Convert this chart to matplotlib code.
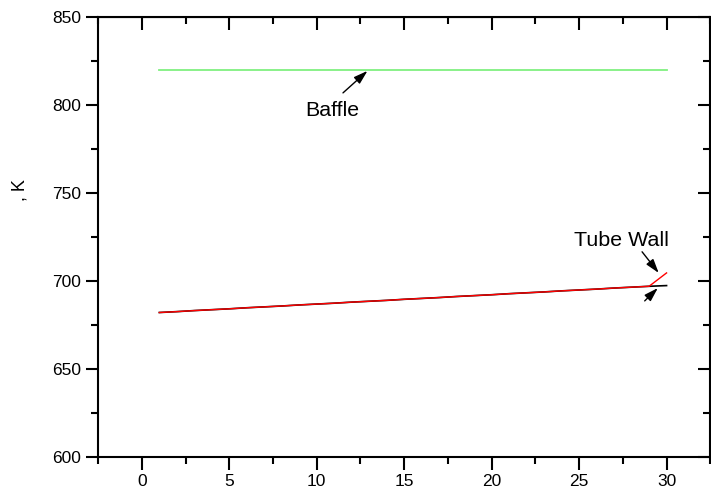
import numpy as np
import matplotlib.pyplot as plt
from matplotlib.ticker import MultipleLocator

plt.rcParams['font.family'] = ['Liberation Sans', 'DejaVu Sans']

# Axial position and temperatures (K)
position = np.arange(1, 31)
baffle_temp = [820.0] * 30
wall_temp = [682.0, 682.5, 683.1, 683.6, 684.1, 684.7, 685.2, 685.7, 686.3, 686.8,
             687.3, 687.9, 688.4, 688.9, 689.5, 690.0, 690.5, 691.1, 691.6, 692.1,
             692.7, 693.2, 693.7, 694.3, 694.8, 695.3, 695.9, 696.4, 696.9, 697.3]
wall_temp_outer = [682.0, 682.5, 683.1, 683.6, 684.1, 684.7, 685.2, 685.7, 686.3, 686.8,
                   687.3, 687.9, 688.4, 688.9, 689.5, 690.0, 690.5, 691.1, 691.6, 692.1,
                   692.7, 693.2, 693.7, 694.3, 694.8, 695.3, 695.9, 696.4, 696.9, 704.5]

fig = plt.figure(figsize=(7.11, 4.96), dpi=100)
ax = fig.add_axes([0.138, 0.079, 0.861, 0.887])

ax.plot(position, baffle_temp, color='#80f080', lw=1.3)
ax.plot(position, wall_temp, color='black', lw=1.2)
ax.plot(position, wall_temp_outer, color='red', lw=1.0)

ax.set_xlim(-2.5, 32.5)
ax.set_ylim(600, 850)
ax.xaxis.set_major_locator(MultipleLocator(5))
ax.xaxis.set_minor_locator(MultipleLocator(2.5))
ax.yaxis.set_major_locator(MultipleLocator(50))
ax.yaxis.set_minor_locator(MultipleLocator(25))

for s in ax.spines.values():
    s.set_linewidth(1.5)

ax.tick_params(which='both', direction='out', width=1.5, labelsize=12.5,
               top=False, right=False)
ax.tick_params(which='major', length=9)
ax.tick_params(which='minor', length=5)

# inward ticks on top and right edges
ax_top = ax.secondary_xaxis('top')
ax_top.xaxis.set_major_locator(MultipleLocator(5))
ax_top.xaxis.set_minor_locator(MultipleLocator(2.5))
ax_top.tick_params(which='both', direction='in', width=1.5, labeltop=False)
ax_top.tick_params(which='major', length=9)
ax_top.tick_params(which='minor', length=5)
ax_right = ax.secondary_yaxis('right')
ax_right.yaxis.set_major_locator(MultipleLocator(50))
ax_right.yaxis.set_minor_locator(MultipleLocator(25))
ax_right.tick_params(which='both', direction='in', width=1.5, labelright=False)
ax_right.tick_params(which='major', length=9)
ax_right.tick_params(which='minor', length=5)

fig.text(20 / 711, 1 - 190 / 496, ', K', rotation=90, fontsize=13,
         ha='center', va='center')

arrow = dict(arrowstyle='-|>,head_length=0.7,head_width=0.22', color='black',
             lw=1.0, mutation_scale=12, shrinkA=0, shrinkB=0)
ax.annotate('', xy=(12.9, 819.3), xytext=(11.5, 806.8), arrowprops=arrow)
ax.text(10.89, 796.6, 'Baffle', fontsize=15.4, ha='center', va='center')

ax.text(27.43, 723.0, 'Tube Wall', fontsize=15.4, ha='center', va='center')
ax.annotate('', xy=(29.55, 704.5), xytext=(28.6, 716.5), arrowprops=arrow)
ax.annotate('', xy=(29.5, 695.9), xytext=(28.75, 688.6), arrowprops=arrow)

fig.savefig('out.png', dpi=100)
